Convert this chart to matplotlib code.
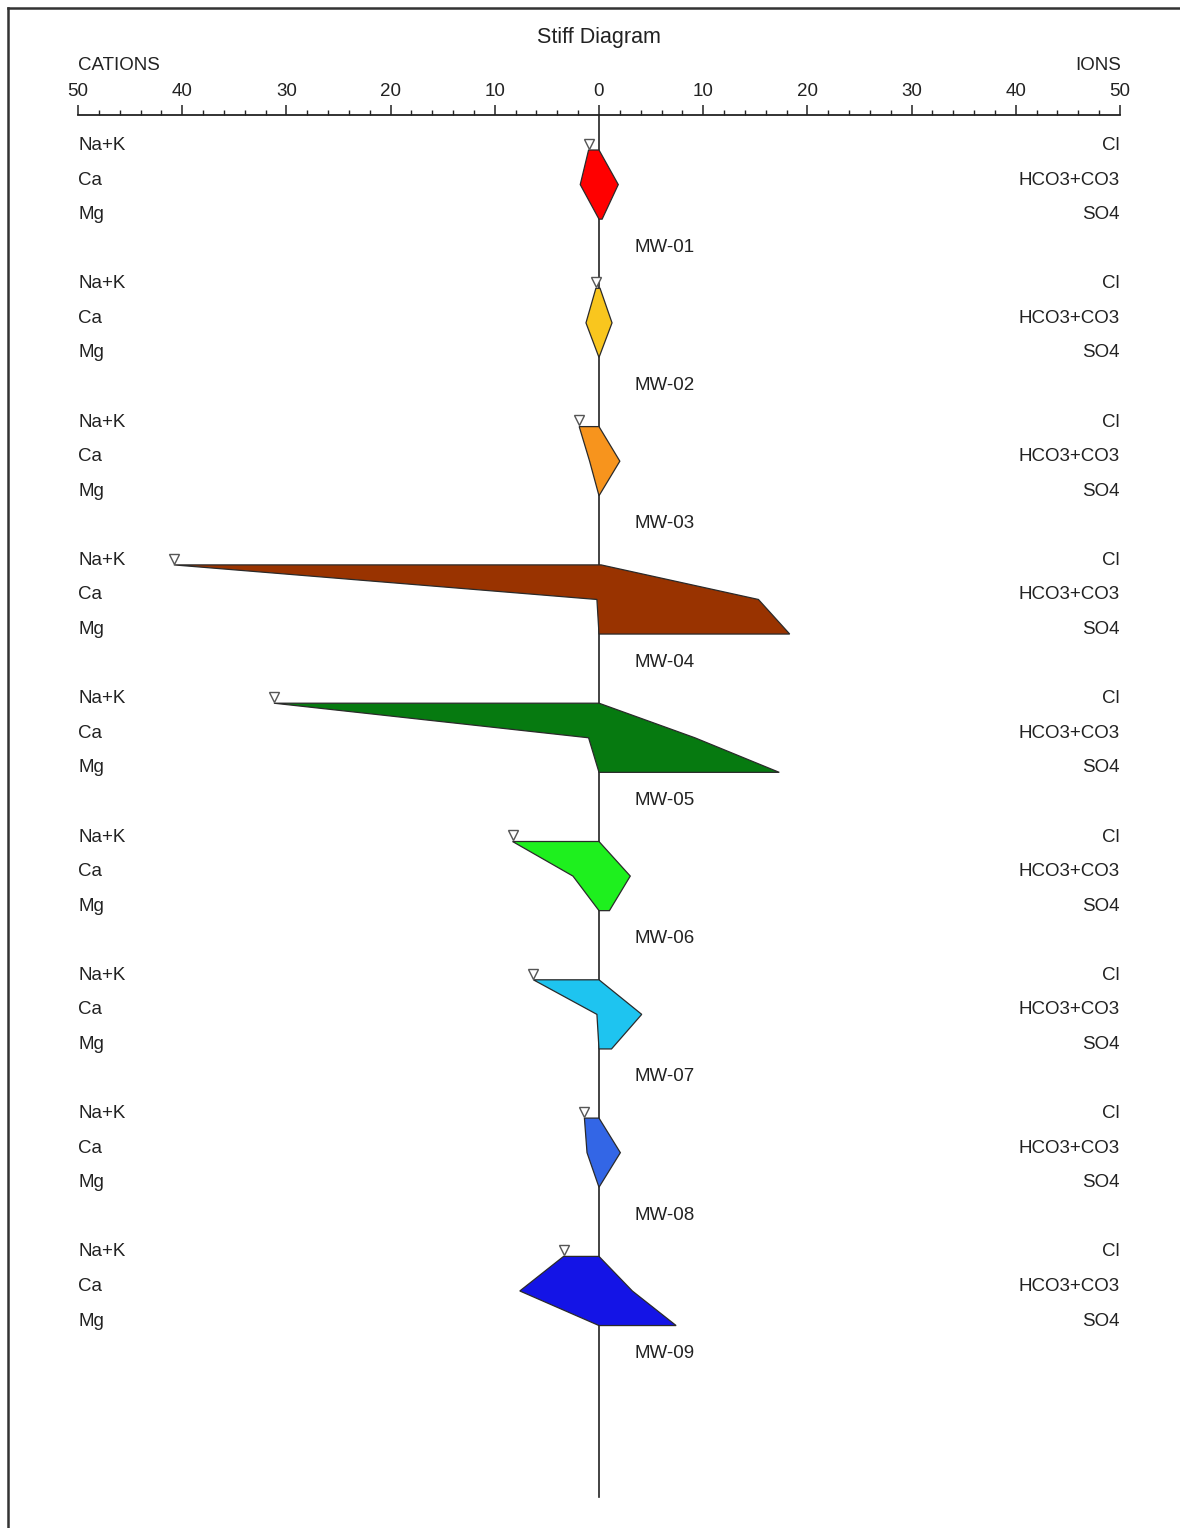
import matplotlib
matplotlib.use("Agg")
import matplotlib.pyplot as plt
from matplotlib.lines import Line2D
from matplotlib.patches import Polygon
from matplotlib.ticker import MultipleLocator, FuncFormatter
import matplotlib.transforms as mtransforms

plt.rcParams['font.family'] = ['Liberation Sans', 'DejaVu Sans']

# ---- data (meq/L) ----
samples = ["MW-01", "MW-02", "MW-03", "MW-04", "MW-05", "MW-06", "MW-07", "MW-08", "MW-09"]
na_k = [1.0, 0.3, 1.9, 40.8, 31.2, 8.3, 6.3, 1.4, 3.4]
ca = [1.8, 1.25, 0.9, 0.2, 1.0, 2.5, 0.2, 1.15, 7.6]
mg = [0.0, 0.0, 0.0, 0.0, 0.0, 0.0, 0.0, 0.0, 0.0]
cl = [0.0, 0.1, 0.0, 0.2, 0.0, 0.0, 0.0, 0.0, 0.0]
hco3_co3 = [1.85, 1.25, 2.0, 15.3, 9.2, 3.0, 4.1, 2.05, 3.2]
so4 = [0.3, 0.0, 0.0, 18.3, 17.3, 1.0, 1.2, 0.0, 7.4]
colors = ["#FF0000", "#F9C61E", "#F7941D", "#993300", "#067A10",
          "#1EF01E", "#1EC4F0", "#3366E6", "#1414E6"]
cation_labels = ["Na+K", "Ca", "Mg"]
anion_labels = ["Cl", "HCO3+CO3", "SO4"]
tick_values = [-50, -40, -30, -20, -10, 0, 10, 20, 30, 40, 50]

W, H = 1180, 1528
fig = plt.figure(figsize=(W / 100, H / 100), dpi=100)

# axes: x from px 78 to 1120, y from px 115 (axis line) to 1497
ax_left, ax_right = 78, 1120
ax_top, ax_bot = 115, 1497
ax = fig.add_axes([ax_left / W, 1 - ax_bot / H, (ax_right - ax_left) / W, (ax_bot - ax_top) / H])

row_px = 138.3
y0_px = 150
ax.set_xlim(-50, 50)
ax.set_ylim((ax_bot - y0_px) / row_px, (ax_top - y0_px) / row_px)

for s in ["left", "right", "bottom"]:
    ax.spines[s].set_visible(False)
ax.spines["top"].set_linewidth(1.3)
ax.spines["top"].set_color("#222222")
ax.xaxis.set_ticks_position("top")
ax.xaxis.set_label_position("top")
ax.set_xticks(tick_values)
ax.xaxis.set_minor_locator(MultipleLocator(2))
ax.xaxis.set_major_formatter(FuncFormatter(lambda v, p: f"{abs(int(round(v)))}"))
ax.tick_params(axis="x", which="major", direction="out", length=7, width=1.1,
               labelsize=13.5, pad=4, colors="#222222")
ax.tick_params(axis="x", which="minor", direction="out", length=3.5, width=1.0, colors="#222222")
ax.set_yticks([])
ax.patch.set_visible(False)

# vertical center line
ylo, yhi = ax.get_ylim()
ax.plot([0, 0], [ylo, yhi], color="#222222", lw=1.2, zorder=1, clip_on=False)

off = [0.0, 0.25, 0.5]
trans_l = mtransforms.blended_transform_factory(ax.transAxes, ax.transData)
for i, name in enumerate(samples):
    ys = [i + o for o in off]
    pts = [(-na_k[i], ys[0]), (-ca[i], ys[1]), (-mg[i], ys[2]),
           (so4[i], ys[2]), (hco3_co3[i], ys[1]), (cl[i], ys[0])]
    ax.add_patch(Polygon(pts, closed=True, facecolor=colors[i], edgecolor="#2a2a2a",
                         lw=0.9, zorder=3))
    ax.plot([-na_k[i]], [ys[0] - 0.045], marker="v", ms=7, mfc="white",
            mec="#555555", mew=1.0, zorder=4, clip_on=False)
    for lab, y in zip(cation_labels, ys):
        ax.text(0.0, y, lab, transform=trans_l, ha="left", va="baseline",
                fontsize=13.5, color="#222222")
    for lab, y in zip(anion_labels, ys):
        ax.text(1.0, y, lab, transform=trans_l, ha="right", va="baseline",
                fontsize=13.5, color="#222222")
    ax.text(3.4, i + 0.735, name, ha="left", va="baseline", fontsize=13.5, color="#222222")

fig.text(599 / W, 1 - 37 / H, "Stiff Diagram", ha="center", va="center",
         fontsize=15.5, color="#222222")
fig.text(78 / W, 1 - 65 / H, "CATIONS", ha="left", va="center", fontsize=13.5, color="#222222")
fig.text(1121 / W, 1 - 65 / H, "IONS", ha="right", va="center", fontsize=13.5, color="#222222")

# page frame (left & top edges)
fig.add_artist(Line2D([8 / W, 8 / W], [0, 1 - 8 / H], color="#333333", lw=1.8))
fig.add_artist(Line2D([8 / W, 1], [1 - 8 / H, 1 - 8 / H], color="#333333", lw=1.8))

fig.savefig("out.png", dpi=100, facecolor="white")
